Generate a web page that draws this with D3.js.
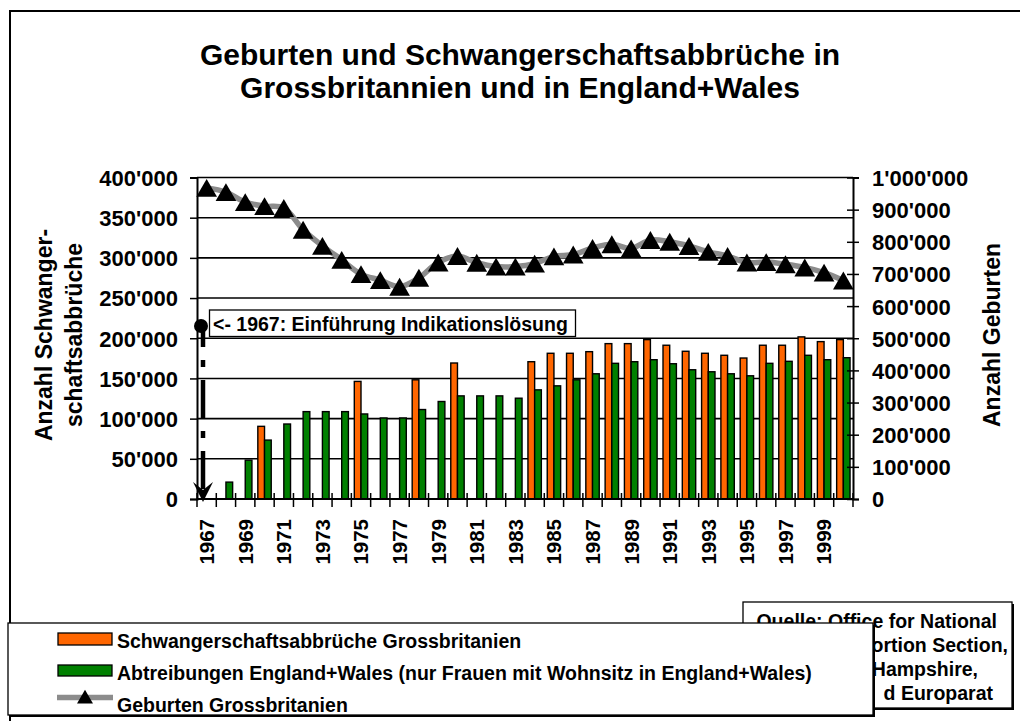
<!DOCTYPE html>
<html><head><meta charset="utf-8">
<script src="https://cdn.jsdelivr.net/npm/d3@7/dist/d3.min.js"></script>
<style>
body{margin:0;background:#fff}
text{font-family:"Liberation Sans",Arial,sans-serif;font-weight:bold;fill:#000}
</style>
</head><body>
<svg id="chart" width="1020" height="721"></svg>
<script>
// ---------- data ----------
const years = ["1967","1968","1969","1970","1971","1972","1973","1974","1975","1976","1977","1978","1979","1980","1981","1982","1983","1984","1985","1986","1987","1988","1989","1990","1991","1992","1993","1994","1995","1996","1997","1998","1999","2000"];
const abortionsGB = [null,null,null,90400,null,null,null,null,146300,null,null,148300,null,169200,null,null,null,170800,181300,181300,183300,193300,193300,198300,191300,183800,181300,178800,175400,191300,191300,201700,195800,198300];
const abortionsEW = [null,21000,48300,73300,93300,108700,108700,108700,105800,100800,100800,111300,121300,128300,128300,128300,125400,135800,140800,148300,155800,168800,170800,173300,168300,160800,158300,155800,153300,168800,171300,178800,173300,175800];
const birthsGB = [967800,954700,923400,910900,905200,837500,787500,743800,699500,680700,660400,688000,735900,755700,734900,722900,722900,732300,754700,760400,780700,792200,779500,805700,800000,787000,768800,755700,735900,736900,730200,720300,704100,679700];
const leftTicks = [0,50000,100000,150000,200000,250000,300000,350000,400000];
const rightTicks = [0,100000,200000,300000,400000,500000,600000,700000,800000,900000,1000000];
const yearLabels = ["1967","1969","1971","1973","1975","1977","1979","1981","1983","1985","1987","1989","1991","1993","1995","1997","1999"];
const titleLines = ["Geburten und Schwangerschaftsabbrüche in","Grossbritannien und in England+Wales"];
const leftTitle = ["Anzahl Schwanger-","schaftsabbrüche"];
const rightTitle = "Anzahl Geburten";
const seriesNames = ["Schwangerschaftsabbrüche Grossbritanien","Abtreibungen England+Wales (nur Frauen mit Wohnsitz in England+Wales)","Geburten Grossbritanien"];
// source note: only the parts visible beside the legend are shown in the picture
const sourceLines = ["Quelle: Office for National","ortion Section,","Hampshire,","d Europarat"];
const annotationText = "<- 1967: Einführung Indikationslösung";
const annotationYear = "1967";

// ---------- layout ----------
const svg = d3.select("#chart");
const L = 197, R = 853, T = 177.5, B = 499;
const ORANGE = "#FF6600", GREEN = "#008000", GREY = "#8C8C8C";

const fmt = v => d3.format(",")(v).replace(/,/g, "'");

const x = d3.scaleBand().domain(years).range([L, R]).paddingInner(0).paddingOuter(0);
const x1 = d3.scaleBand().domain(["gb","ew"]).range([0, x.bandwidth()]).paddingInner(0).paddingOuter(0.44);
const yL = d3.scaleLinear().domain([0, 400000]).range([B, T]);
const yR = d3.scaleLinear().domain([0, 1000000]).range([B, T]);

// outer chart border
svg.append("rect").attr("x", 10).attr("y", 11).attr("width", 1040).attr("height", 740)
  .attr("fill", "#fff").attr("stroke", "#000").attr("stroke-width", 2);

// title
svg.append("g").selectAll("text").data(titleLines).join("text")
  .attr("x", 520).attr("y", (d, i) => 65 + i * 33)
  .attr("text-anchor", "middle").style("font-size", "30px").text(d => d);

// gridlines
svg.append("g").selectAll("line").data(leftTicks.filter(d => d > 0)).join("line")
  .attr("x1", L).attr("x2", R).attr("y1", d => yL(d)).attr("y2", d => yL(d))
  .attr("stroke", "#000").attr("stroke-width", 1.6);

// bars
const barData = [];
years.forEach((yr, i) => {
  if (abortionsGB[i] != null) barData.push({yr, k: "gb", v: abortionsGB[i]});
  if (abortionsEW[i] != null) barData.push({yr, k: "ew", v: abortionsEW[i]});
});
svg.append("g").selectAll("rect").data(barData).join("rect")
  .attr("x", d => x(d.yr) + x1(d.k)).attr("width", x1.bandwidth())
  .attr("y", d => yL(d.v)).attr("height", d => B - yL(d.v))
  .attr("fill", d => d.k === "gb" ? ORANGE : GREEN)
  .attr("stroke", "#000").attr("stroke-width", 1.4);

// left axis
const gL = svg.append("g").attr("transform", `translate(${L},0)`)
  .call(d3.axisLeft(yL).tickValues(leftTicks).tickFormat(fmt).tickSize(7).tickPadding(12));
gL.select(".domain").attr("stroke", "#000").attr("stroke-width", 2);
gL.selectAll(".tick line").attr("stroke-width", 1.5);
gL.selectAll(".tick text").style("font-size", "22px").attr("dy", "0.36em");
gL.attr("font-family", null).attr("font-size", null);

// right axis
const gR = svg.append("g").attr("transform", `translate(${R},0)`)
  .call(d3.axisRight(yR).tickValues(rightTicks).tickFormat(fmt).tickSize(6).tickPadding(13));
gR.select(".domain").attr("stroke", "#000").attr("stroke-width", 2);
gR.selectAll(".tick line").attr("x1", -6).attr("stroke-width", 1.5);
gR.selectAll(".tick text").style("font-size", "22px").attr("dy", "0.36em");
gR.attr("font-family", null).attr("font-size", null);

// x axis
svg.append("line").attr("x1", L).attr("x2", R).attr("y1", B).attr("y2", B)
  .attr("stroke", "#000").attr("stroke-width", 2);
const bounds = years.map(d => x(d)).concat([R]);
svg.append("g").selectAll("line").data(bounds).join("line")
  .attr("x1", d => d).attr("x2", d => d).attr("y1", B - 6).attr("y2", B + 8)
  .attr("stroke", "#000").attr("stroke-width", 1.5);
svg.append("g").selectAll("text").data(yearLabels).join("text")
  .attr("transform", d => `translate(${x(d) + x.bandwidth() / 2},519) rotate(-90)`)
  .attr("text-anchor", "end").attr("dy", "0.36em").style("font-size", "20.5px").text(d => d);

// births line
const line = d3.line().x((d, i) => x(years[i]) + x.bandwidth() / 2).y(d => yR(d)).curve(d3.curveCatmullRom.alpha(0.5));
svg.append("path").datum(birthsGB).attr("d", line)
  .attr("fill", "none").attr("stroke", GREY).attr("stroke-width", 5.5);
const tri = d3.symbol().type(d3.symbolTriangle).size(185);
svg.append("g").selectAll("path").data(birthsGB).join("path")
  .attr("transform", (d, i) => `translate(${x(years[i]) + x.bandwidth() / 2},${yR(d) + 3})`)
  .attr("d", tri).attr("fill", "#000");

// annotation
const ax = x(annotationYear) + 6;
svg.append("line").attr("x1", ax).attr("x2", ax).attr("y1", 326).attr("y2", 490)
  .attr("stroke", "#000").attr("stroke-width", 4.5)
  .attr("stroke-dasharray", "38,13,7,13").attr("stroke-dashoffset", 17);
svg.append("path")
  .attr("d", `M${ax},502 L${ax - 10},482 L${ax},490 L${ax + 10},482 Z`).attr("fill", "#000");
svg.append("circle").attr("cx", ax - 2).attr("cy", 326).attr("r", 7).attr("fill", "#000");
svg.append("rect").attr("x", 209.5).attr("y", 310).attr("width", 366).attr("height", 26.5)
  .attr("fill", "#fff").attr("stroke", "#000").attr("stroke-width", 1.3);
svg.append("text").attr("x", 213).attr("y", 331).style("font-size", "19.5px").text(annotationText);

// axis titles
svg.append("g").selectAll("text").data(leftTitle).join("text")
  .attr("transform", (d, i) => `translate(${52 + i * 30},335) rotate(-90)`)
  .attr("text-anchor", "middle").style("font-size", "23px").text(d => d);
svg.append("text").attr("transform", "translate(1000,335) rotate(-90)")
  .attr("text-anchor", "middle").style("font-size", "23px").text(rightTitle);

// source box (partly hidden behind the legend)
svg.append("rect").attr("x", 745).attr("y", 604).attr("width", 269).attr("height", 106).attr("fill", "#000");
svg.append("rect").attr("x", 743).attr("y", 602).attr("width", 269).attr("height", 106)
  .attr("fill", "#fff").attr("stroke", "#000").attr("stroke-width", 1.3);
const srcEnds = [997, 1008, 978, 993];
svg.append("g").selectAll("text").data(sourceLines).join("text")
  .attr("x", (d, i) => srcEnds[i]).attr("y", (d, i) => 628 + i * 24)
  .attr("text-anchor", "end").style("font-size", "19.5px").text(d => d);

// legend box
svg.append("rect").attr("x", 10).attr("y", 625).attr("width", 865).attr("height", 92).attr("fill", "#000");
svg.append("rect").attr("x", 8).attr("y", 623).attr("width", 865).attr("height", 92)
  .attr("fill", "#fff").attr("stroke", "#000").attr("stroke-width", 1.3);
const lg = svg.append("g");
lg.append("rect").attr("x", 58).attr("y", 633).attr("width", 54).attr("height", 12)
  .attr("fill", ORANGE).attr("stroke", "#000").attr("stroke-width", 1.3);
lg.append("rect").attr("x", 58).attr("y", 665).attr("width", 54).attr("height", 11)
  .attr("fill", GREEN).attr("stroke", "#000").attr("stroke-width", 1.3);
lg.append("line").attr("x1", 57).attr("x2", 113).attr("y1", 697.5).attr("y2", 697.5)
  .attr("stroke", GREY).attr("stroke-width", 5.5);
lg.append("path").attr("transform", "translate(85,699)")
  .attr("d", d3.symbol().type(d3.symbolTriangle).size(110)).attr("fill", "#000");
lg.selectAll("text").data(seriesNames).join("text")
  .attr("x", 117).attr("y", (d, i) => 648 + i * 32).style("font-size", "19.5px").text(d => d);
</script>
</body></html>
